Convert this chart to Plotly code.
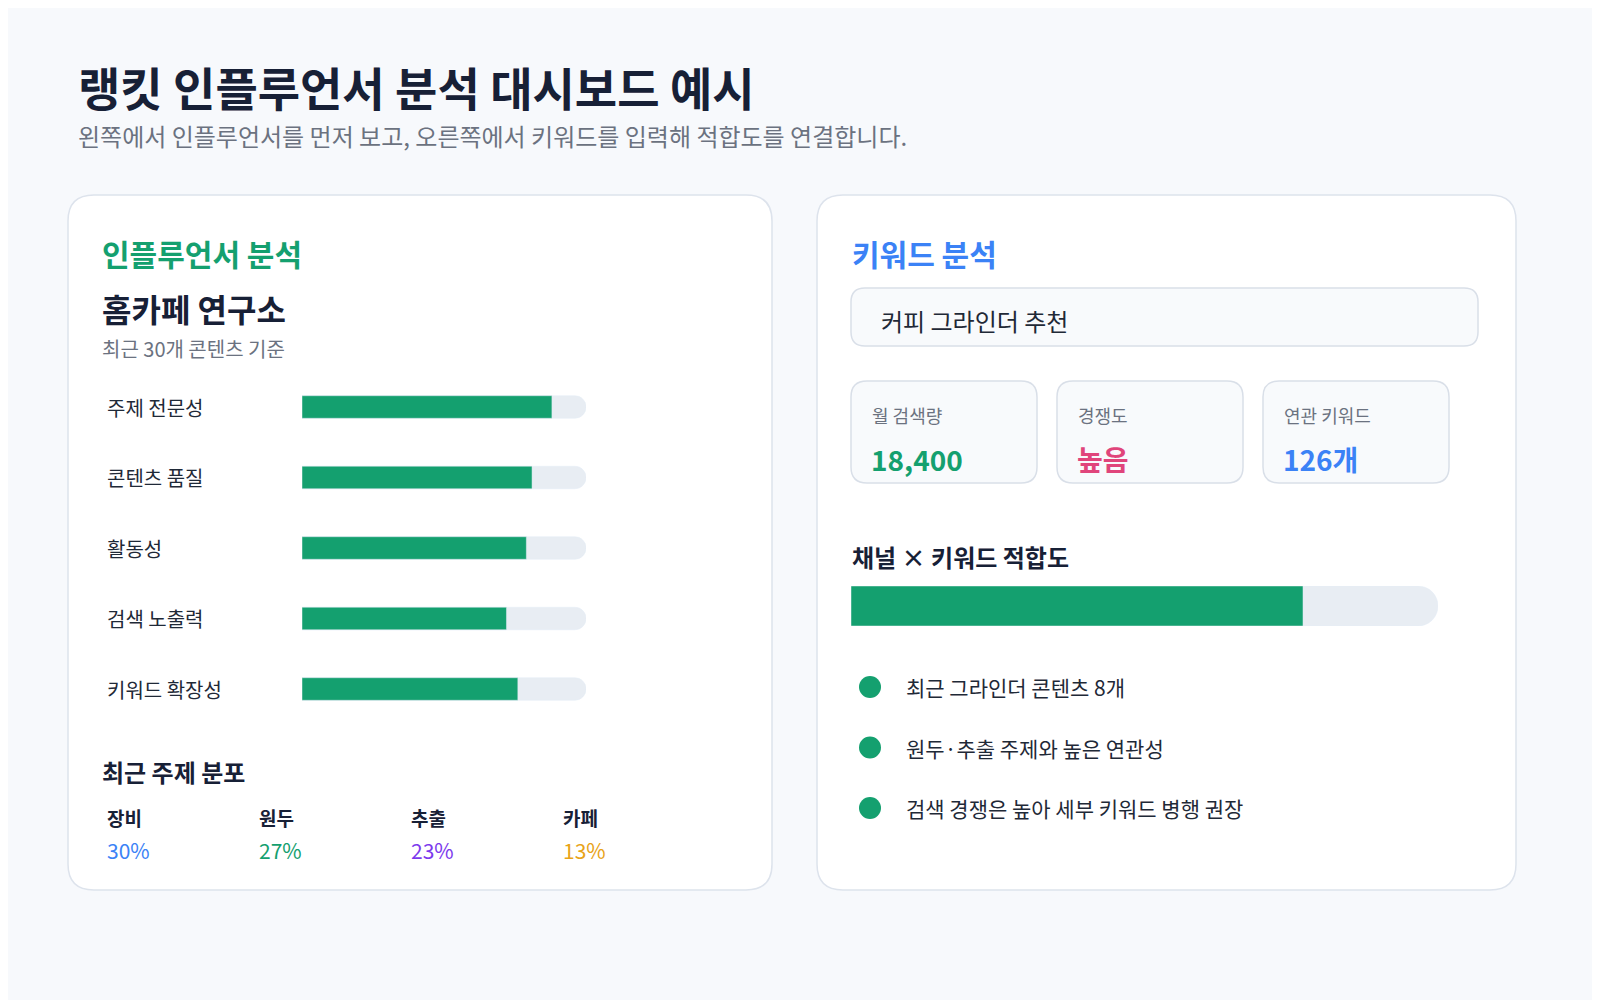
import plotly.graph_objects as go

FONT = "Noto Sans CJK KR"
GREEN = "#14a06f"
DARK = "#172036"
GREY = "#6b7280"

# data
metrics = ["주제 전문성", "콘텐츠 품질", "활동성", "검색 노출력", "키워드 확장성"]
scores = [88, 81, 79, 72, 76]
fit_score = 77
topics = ["장비", "원두", "추출", "카페"]
topic_share = [30, 27, 23, 13]
topic_colors = ["#3b82f6", "#14a06f", "#7c3aed", "#e8a317"]
cards = ["월 검색량", "경쟁도", "연관 키워드"]
card_values = ["18,400", "높음", "126개"]
card_colors = [GREEN, "#e0457b", "#3b82f6"]
notes = ["최근 그라인더 콘텐츠 8개", "원두·추출 주제와 높은 연관성", "검색 경쟁은 높아 세부 키워드 병행 권장"]

W, H = 1600, 1000
px = lambda x: x / W
py = lambda y: 1 - y / H

fig = go.Figure()

# left score bars
fig.add_trace(go.Bar(y=metrics, x=[100] * len(metrics), orientation="h",
                     marker=dict(color="#e8edf3", cornerradius=11), width=0.32,
                     hoverinfo="skip", xaxis="x", yaxis="y"))
fig.add_trace(go.Bar(y=metrics, x=scores, orientation="h",
                     marker=dict(color=GREEN, cornerradius=11), width=0.32,
                     xaxis="x", yaxis="y"))
fig.add_trace(go.Scatter(y=metrics, x=[115] * len(metrics), mode="text",
                         text=[f"<b>{s}</b>" for s in scores],
                         textfont=dict(family=FONT, size=21, color=GREEN),
                         cliponaxis=False, xaxis="x", yaxis="y"))

# right fit bar
fig.add_trace(go.Bar(y=["fit"], x=[100], orientation="h", width=1,
                     marker=dict(color="#e8edf3", cornerradius=20),
                     hoverinfo="skip", xaxis="x2", yaxis="y2"))
fig.add_trace(go.Bar(y=["fit"], x=[fit_score], orientation="h", width=1,
                     marker=dict(color=GREEN, cornerradius=20),
                     xaxis="x2", yaxis="y2"))
fig.add_trace(go.Scatter(y=["fit"], x=[108], mode="text",
                         text=[f"<b>{fit_score}%</b>"],
                         textfont=dict(family=FONT, size=24, color=GREEN),
                         cliponaxis=False, xaxis="x2", yaxis="y2"))


def rrect(x0, y0, x1, y1, r, fill, line):
    path = (f"M{px(x0 + r)},{py(y0)} L{px(x1 - r)},{py(y0)} "
            f"Q{px(x1)},{py(y0)} {px(x1)},{py(y0 + r)} L{px(x1)},{py(y1 - r)} "
            f"Q{px(x1)},{py(y1)} {px(x1 - r)},{py(y1)} L{px(x0 + r)},{py(y1)} "
            f"Q{px(x0)},{py(y1)} {px(x0)},{py(y1 - r)} L{px(x0)},{py(y0 + r)} "
            f"Q{px(x0)},{py(y0)} {px(x0 + r)},{py(y0)} Z")
    return dict(type="path", path=path, xref="paper", yref="paper",
                fillcolor=fill, line=dict(color=line, width=1.5), layer="below")


shapes = [rrect(60, 187, 764, 882, 26, "white", "#dde3ec"),
          rrect(809, 187, 1508, 882, 26, "white", "#dde3ec"),
          rrect(843, 280, 1470, 338, 14, "#f8fafc", "#d9dfe8")]
card_x = [843, 1049, 1255]
for cx in card_x:
    shapes.append(rrect(cx, 373, cx + 186, 475, 16, "#f8fafc", "#d9dfe8"))
for i in range(len(notes)):
    y = 679 + i * 60.5
    shapes.append(dict(type="circle", xref="paper", yref="paper",
                       x0=px(851), x1=px(873), y0=py(y - 11), y1=py(y + 11),
                       fillcolor=GREEN, line=dict(width=0)))

ann = []


def text(x, y, s, size, color, bold=False):
    ann.append(dict(x=px(x), y=py(y), xref="paper", yref="paper",
                    text=f"<b>{s}</b>" if bold else s, showarrow=False,
                    xanchor="left", yanchor="middle",
                    font=dict(family=FONT, size=size, color=color)))


text(68, 78, "랭킷 인플루언서 분석 대시보드 예시", 46, DARK, True)
text(68, 127, "왼쪽에서 인플루언서를 먼저 보고, 오른쪽에서 키워드를 입력해 적합도를 연결합니다.", 24, GREY)
text(92, 245, "인플루언서 분석", 30, GREEN, True)
text(92, 300, "홈카페 연구소", 32, DARK, True)
text(92, 341, "최근 30개 콘텐츠 기준", 20, GREY)
for m in metrics:
    ann.append(dict(x=px(97), y=m, xref="paper", yref="y", text=m, showarrow=False,
                    xanchor="left", font=dict(family=FONT, size=20, color="#1f2937")))
text(92, 763, "최근 주제 분포", 24, DARK, True)
for i, t in enumerate(topics):
    text(97 + 152 * i, 809, t, 19, DARK, True)
    text(97 + 152 * i, 842, f"{topic_share[i]}%", 21, topic_colors[i])

text(842, 245, "키워드 분석", 30, "#3b82f6", True)
text(871, 313, "커피 그라인더 추천", 24, "#1f2937")
for i, cx in enumerate(card_x):
    text(cx + 19, 407, cards[i], 18, GREY)
    text(cx + 18, 451, card_values[i], 28, card_colors[i], True)
text(842, 548, "채널 × 키워드 적합도", 24, DARK, True)
for i, n in enumerate(notes):
    text(896, 679 + i * 60.5, n, 21, "#1f2937")

hidden = dict(visible=False, fixedrange=True)
fig.update_layout(
    width=W, height=H, margin=dict(l=0, r=0, t=0, b=0),
    paper_bgcolor="#f7f9fc", plot_bgcolor="rgba(0,0,0,0)",
    barmode="overlay", showlegend=False,
    font=dict(family=FONT),
    xaxis=dict(domain=[px(294), px(578)], range=[0, 100], **hidden),
    yaxis=dict(domain=[py(716.25), py(363.75)], range=[4.5, -0.5],
               categoryorder="array", categoryarray=metrics, **hidden),
    xaxis2=dict(domain=[px(843), px(1430)], range=[0, 100], anchor="y2", **hidden),
    yaxis2=dict(domain=[py(618), py(578)], range=[-0.5, 0.5], anchor="x2", **hidden),
    shapes=shapes, annotations=ann,
)

fig.write_html("out.html")
